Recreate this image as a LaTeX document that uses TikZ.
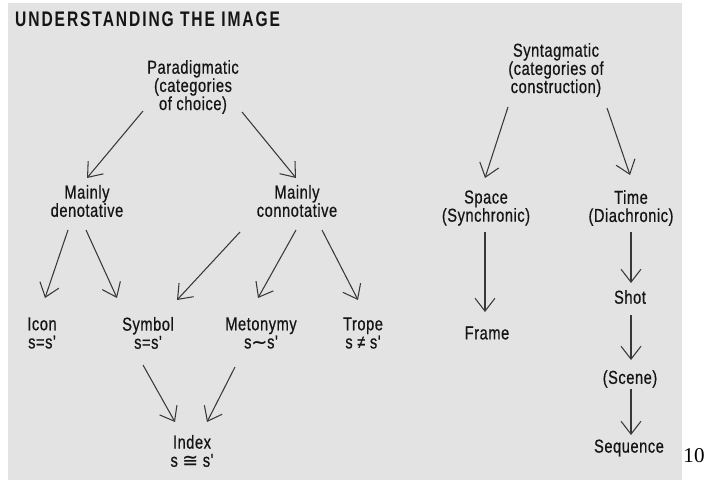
\documentclass[tikz,border=0pt]{standalone}
\usepackage{fontspec}
\setmainfont{Liberation Sans}
\newfontfamily\diagfont{Liberation Sans}[FakeStretch=0.78,LetterSpace=3,FakeBold=0.6]
\newfontfamily\headfont{Liberation Sans}[FakeStretch=0.74,LetterSpace=9]
\newfontfamily\relfont{DejaVu Sans}[FakeBold=0.6]
\newfontfamily\pagefont{Liberation Serif}
\usetikzlibrary{arrows.meta,calc}
\definecolor{paper}{HTML}{E3E3E3}
\definecolor{ink}{HTML}{151515}
\begin{document}
\begin{tikzpicture}[
		x=0.03cm, y=-0.03cm,
		every node/.style={
				text=ink,
				align=center,
				inner sep=0pt,
				font=\diagfont\fontsize{16}{15.5}\selectfont
			},
		arr/.style={
				draw=ink!85,
				line width=0.9pt,
				-{Straight Barb[length=11pt,width=17pt]}
			}
	]
	\useasboundingbox (0,0) rectangle (705,480);
	\fill[paper] (8,3) rectangle (682,480);

	\node[anchor=west, font=\headfont\bfseries\fontsize{18}{18}\selectfont] (title) at (15,19) {UNDERSTANDING THE IMAGE};

	% paradigmatic side
	\node (para) at (193,87) {Paradigmatic \\ (categories \\ of choice)};
	\node (deno) at (87,201) {Mainly \\ denotative};
	\node (conno) at (297,201) {Mainly \\ connotative};
	\node (icon) at (42,333) {Icon \\ s=s'};
	\node (symbol) at (148,333) {Symbol \\ s=s'};
	\node (meto) at (261,333) {Metonymy \\ s{\relfont∼}s'};
	\node (trope) at (363,333) {Trope \\ s ≠ s'};
	\node (index) at (192,451) {Index \\ s {\relfont≅} s'};

	% syntagmatic side
	\node (synt) at (556,70) {Syntagmatic \\ (categories of \\ construction)};
	\node (space) at (486,208) {Space \\ (Synchronic)};
	\node (time) at (631,208) {Time \\ (Diachronic)};
	\node (frame) at (487,333) {Frame};
	\node (shot) at (630,297) {Shot};
	\node (scene) at (630,379) {(Scene)};
	\node (seq) at (629,448) {Sequence};

	\node[font=\pagefont\fontsize{18}{20}\selectfont, text=black] (pageno) at (694,456) {10};

	\draw[arr] ($(para)+(-50,24)$) -- ($(deno)+(0,-23)$);
	\draw[arr] ($(para)+(49,25)$) -- ($(conno)+(-1,-23)$);
	\draw[arr] ($(deno)+(-19,29)$) -- ($(icon)+(3,-35)$);
	\draw[arr] ($(deno)+(-1,29)$) -- ($(symbol)+(-31,-35)$);
	\draw[arr] ($(conno)+(-57,31)$) -- ($(symbol)+(29,-33)$);
	\draw[arr] ($(conno)+(-1,29)$) -- ($(meto)+(-3,-35)$);
	\draw[arr] ($(conno)+(25,29)$) -- ($(trope)+(-5,-33)$);
	\draw[arr] ($(symbol)+(-5,32)$) -- ($(index)+(-17,-29)$);
	\draw[arr] ($(meto)+(-26,34)$) -- ($(index)+(15,-29)$);

	\draw[arr] ($(synt)+(-48,37)$) -- ($(space)+(-1,-30)$);
	\draw[arr] ($(synt)+(51,38)$) -- ($(time)+(-1,-33)$);
	\draw[arr] ($(space)+(-1,24)$) -- ($(frame)+(-2,-21)$);
	\draw[arr] ($(time)+(0,24)$) -- ($(shot)+(1,-14)$);
	\draw[arr] ($(shot)+(1,18)$) -- ($(scene)+(1,-19)$);
	\draw[arr] ($(scene)+(1,10)$) -- ($(seq)+(2,-13)$);
\end{tikzpicture}
\end{document}
